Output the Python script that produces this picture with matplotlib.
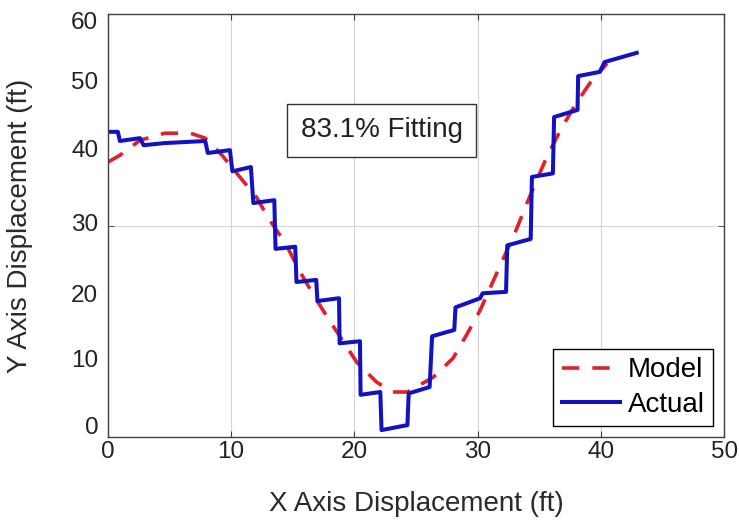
import matplotlib
matplotlib.use("Agg")
from matplotlib import pyplot as plt

plt.rcParams['font.family'] = ['Liberation Sans', 'DejaVu Sans']

# blue staircase: measured path
actual_x = [0.0, 0.81, 0.97, 2.6, 2.9, 4.6, 7.9, 8.1, 9.9, 10.1, 11.6, 11.8, 13.5, 13.6,
            15.2, 15.3, 16.9, 17.0, 18.75, 18.8, 20.45, 20.5, 22.1, 22.2, 24.3, 24.4,
            26.1, 26.3, 28.1, 28.2, 30.2, 30.4, 32.3, 32.4, 34.3, 34.4, 36.1, 36.2,
            38.1, 38.15, 39.9, 40.3, 42.9]
actual_y = [43.3, 43.3, 42.0, 42.4, 41.4, 41.7, 42.0, 40.3, 40.7, 37.7, 38.3, 33.2, 33.6, 26.7,
            27.0, 22.0, 22.3, 19.3, 19.7, 13.3, 13.6, 6.0, 6.4, 1.0, 1.7, 6.2,
            7.1, 14.3, 15.2, 18.4, 19.7, 20.4, 20.6, 27.2, 28.1, 36.9, 37.4, 45.4,
            46.4, 51.2, 51.8, 53.2, 54.5]

# red dashed model curve
model_x = [0.0, 1.0, 2.6, 4.6, 6.7, 7.9, 9.25, 10.7, 12.1, 13.0, 14.4, 15.5, 16.6, 17.8,
           20.2, 21.8, 23.1, 24.3, 26.4, 28.0, 29.1, 30.2, 31.3, 32.1, 33.1, 34.1,
           34.8, 35.6, 36.7, 37.9, 39.1, 40.5]
model_y = [39.0, 40.0, 42.1, 43.1, 43.1, 42.4, 40.0, 36.9, 33.9, 31.1, 27.5, 23.7, 20.4, 17.0,
           10.6, 7.8, 6.4, 6.4, 8.5, 11.2, 14.5, 18.0, 22.3, 25.4, 29.3, 33.6,
           36.5, 39.7, 43.5, 47.1, 50.2, 53.0]

x_ticks = [0, 10, 20, 30, 40, 50]
# y labels sit where the original figure put them
y_label_pos = [1.7, 11.1, 20.4, 30.5, 41.0, 50.6, 59.1]
y_labels = ['0', '10', '20', '30', '40', '50', '60']

fig = plt.figure(figsize=(7.39, 5.21), dpi=100)
ax = fig.add_axes([0.146, 0.161, 0.834, 0.812])

ax.plot(model_x, model_y, color='#e0202a', lw=2.6, dashes=(4.8, 3.6), label='Model')
ax.plot(actual_x, actual_y, color='#1212c0', lw=2.9, label='Actual')

ax.set_xlim(0, 50)
ax.set_ylim(0, 60)
ax.set_xticks(x_ticks)
ax.tick_params(axis='x', direction='in', top=True, length=4, labelsize=17.5, pad=3,
               color='#404040', labelcolor='#222222')
ax.set_yticks(y_label_pos, y_labels)
ax.tick_params(axis='y', which='major', length=0, labelsize=17.5, pad=7, labelcolor='#222222')
ax.set_yticks([30], minor=True)
ax.tick_params(axis='y', which='minor', direction='in', right=True, length=4, color='#404040')
ax.grid(True, axis='x', color='#d4d4d4', lw=0.8)
ax.grid(True, axis='y', which='minor', color='#d4d4d4', lw=0.8)
ax.grid(False, axis='y', which='major')
for s in ax.spines.values():
    s.set_color('#404040')
    s.set_linewidth(1.0)

ax.set_xlabel('X Axis Displacement (ft)', fontsize=20, color='#2a2a2a')
ax.xaxis.set_label_coords(0.5, -0.128)
ax.set_ylabel('Y Axis Displacement (ft)', fontsize=20, color='#2a2a2a')
ax.yaxis.set_label_coords(-0.122, 0.5)

ax.text(22.2, 43.5, '83.1% Fitting', fontsize=20, ha='center', va='center', color='#222222',
        bbox=dict(boxstyle='square,pad=0.5', fc='white', ec='#333333', lw=1.0))

leg = ax.legend(loc='lower right', fontsize=20, handlelength=2.1, handletextpad=0.28,
                labelspacing=0.3, borderpad=0.3, borderaxespad=0.4, fancybox=False,
                framealpha=1)
leg.get_frame().set_edgecolor('black')
leg.get_frame().set_linewidth(1.0)

fig.savefig('out.png', dpi=100)
